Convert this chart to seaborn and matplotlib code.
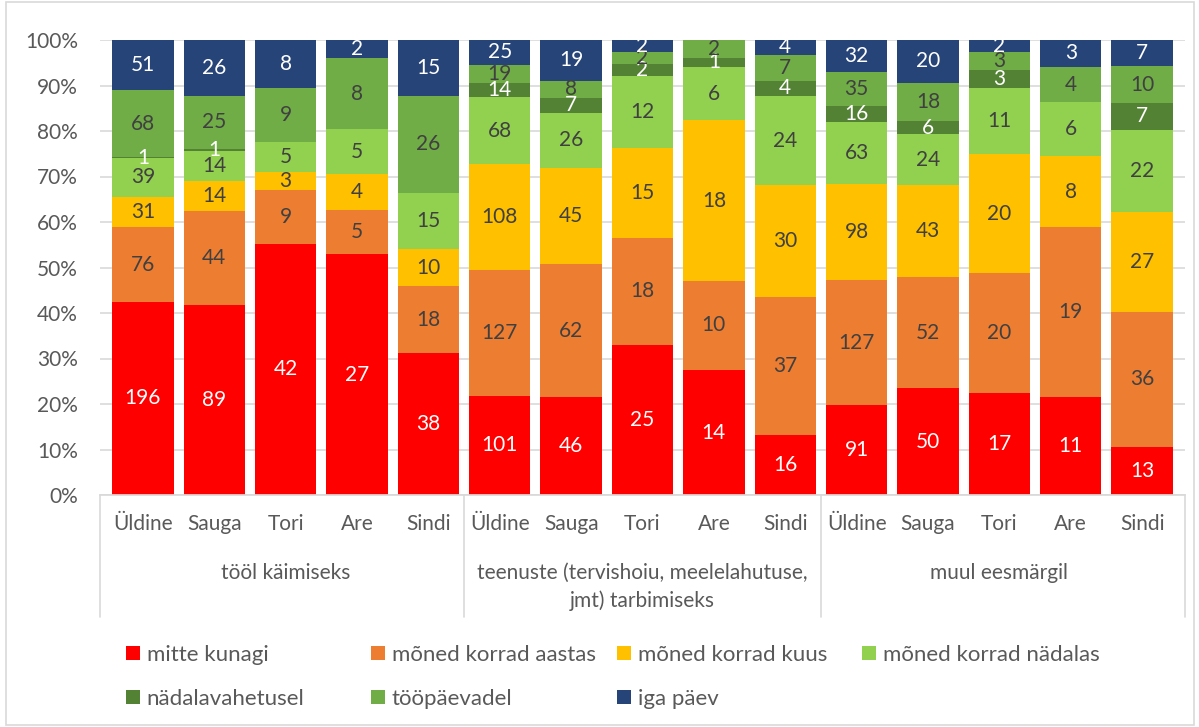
import numpy as np
import pandas as pd
import matplotlib
matplotlib.use("Agg")
import matplotlib.pyplot as plt
import seaborn as sns
from matplotlib.patches import Rectangle, Patch
from matplotlib.transforms import blended_transform_factory

sns.set_theme(style="white")
plt.rcParams['font.family'] = ['Lato', 'DejaVu Sans']

places = ["Üldine", "Sauga", "Tori", "Are", "Sindi"]
groups = ["tööl käimiseks", "teenuste (tervishoiu, meelelahutuse,\njmt) tarbimiseks", "muul eesmärgil"]
series = ["mitte kunagi", "mõned korrad aastas", "mõned korrad kuus", "mõned korrad nädalas",
          "nädalavahetusel", "tööpäevadel", "iga päev"]
colors = ["#FF0000", "#ED7D31", "#FFC000", "#92D050", "#548235", "#70AD47", "#264478"]
label_colors = ["white", "#404040", "#404040", "#404040", "white", "#404040", "white"]

mitte_kunagi = [196, 89, 42, 27, 38, 101, 46, 25, 14, 16, 91, 50, 17, 11, 13]
aastas       = [76, 44, 9, 5, 18, 127, 62, 18, 10, 37, 127, 52, 20, 19, 36]
kuus         = [31, 14, 3, 4, 10, 108, 45, 15, 18, 30, 98, 43, 20, 8, 27]
nadalas      = [39, 14, 5, 5, 15, 68, 26, 12, 6, 24, 63, 24, 11, 6, 22]
nadalavahetusel = [1, 1, 0, 0, 0, 14, 7, 2, 1, 4, 16, 6, 3, 0, 7]
toopaevadel  = [68, 25, 9, 8, 26, 19, 8, 2, 2, 7, 35, 18, 3, 4, 10]
iga_paev     = [51, 26, 8, 2, 15, 25, 19, 2, 0, 4, 32, 20, 2, 3, 7]

vals = np.array([mitte_kunagi, aastas, kuus, nadalas, nadalavahetusel, toopaevadel, iga_paev], dtype=float)
n = vals.shape[1]
pct = vals / vals.sum(axis=0) * 100
cum = np.cumsum(pct, axis=0)

fig = plt.figure(figsize=(11.99, 7.27), dpi=100)
ax = fig.add_axes([100/1199, 1-495/727, 1085/1199, 455/727])

pos = list(range(n))
for i in range(len(series) - 1, -1, -1):
    df = pd.DataFrame({"pos": pos, "val": cum[i]})
    sns.barplot(data=df, x="pos", y="val", color=colors[i], width=0.86,
                linewidth=0, saturation=1, ax=ax, order=pos)

# data labels
for i in range(len(series)):
    for j in range(n):
        if vals[i, j] > 0:
            y = cum[i, j] - pct[i, j] / 2
            ax.text(j, y, f"{int(vals[i, j])}", ha="center", va="center",
                    fontsize=15, color=label_colors[i])

ax.set_xlim(-0.6, 14.6)
ax.set_ylim(0, 100)
ax.set_yticks(np.arange(0, 101, 10))
ax.set_yticklabels([f"{v}%" for v in range(0, 101, 10)], fontsize=15, color="#595959")
ax.set_xticks(pos)
ax.set_xticklabels(places * 3, fontsize=15, color="#595959")
ax.tick_params(axis="x", length=0, pad=14)
ax.tick_params(axis="y", length=0, pad=16)
ax.set_xlabel("")
ax.set_ylabel("")
ax.yaxis.grid(True, color="#D9D9D9", linewidth=1.2)
ax.set_axisbelow(True)
for s in ["top", "right", "left"]:
    ax.spines[s].set_visible(False)
ax.spines["bottom"].set_color("#D9D9D9")

trans = blended_transform_factory(ax.transData, ax.transAxes)
for xb in [-0.6, 4.5, 9.5, 14.6]:
    ax.plot([xb, xb], [0, -0.268], color="#D9D9D9", linewidth=1.2, transform=trans, clip_on=False)
for g, name in enumerate(groups):
    ax.text(g * 5 + 2, -0.150, name, ha="center", va="top", fontsize=15, color="#595959",
            transform=trans, linespacing=1.45, multialignment="center")

# legend in 4 columns
col_x = [126/1199, 371/1199, 617/1199, 862/1199]
cols = [[0, 4], [1, 5], [2, 6], [3]]
for cx, idxs in zip(col_x, cols):
    handles = [Patch(facecolor=colors[k], edgecolor="none") for k in idxs]
    labels = [series[k] for k in idxs]
    fig.legend(handles, labels, loc="upper left", bbox_to_anchor=(cx, 1-645/727),
               frameon=False, fontsize=16, handlelength=0.63, handleheight=0.63,
               handletextpad=0.3, labelspacing=1.08, labelcolor="#595959",
               borderaxespad=0, borderpad=0)

fig.patches.append(Rectangle((0.005, 0.003), 0.991, 0.994, transform=fig.transFigure,
                             fill=False, edgecolor="#D9D9D9", linewidth=1.2))

fig.savefig("out.png", dpi=100, facecolor="white")
